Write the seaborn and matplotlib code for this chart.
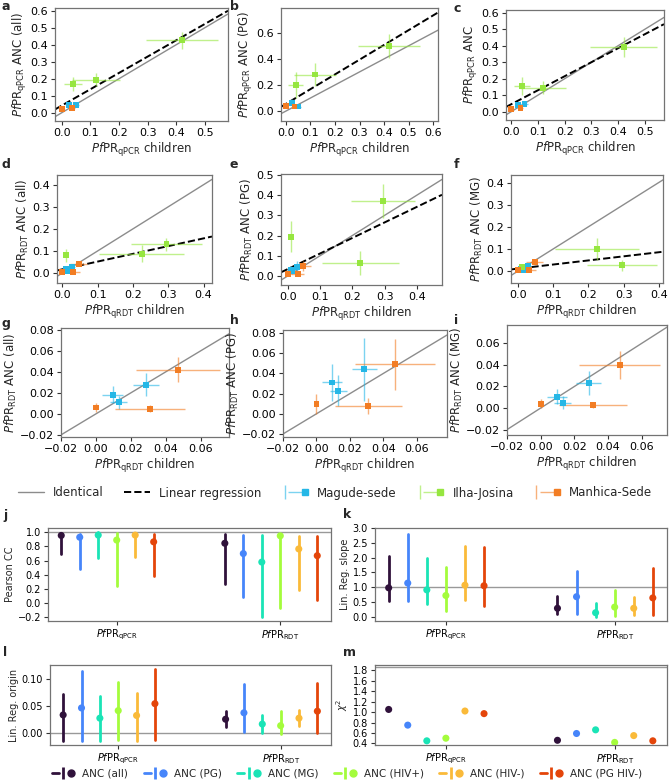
import numpy as np
import pandas as pd
import seaborn as sns
import matplotlib.pyplot as plt
from matplotlib.lines import Line2D
from matplotlib.legend_handler import HandlerTuple
from matplotlib.ticker import MultipleLocator

# sites (top panels)
sites = ["Magude-sede", "Ilha-Josina", "Manhica-Sede"]
site_colours = ["#25b7e6", "#96e640", "#f27d24"]

# children prevalence by qPCR (x of panels a-c), one list per site
qpcr_child = [[0.025, 0.05], [0.04, 0.12, 0.42], [0.0, 0.035]]
qpcr_child_err = [[0.01, 0.012], [0.03, 0.085, 0.125], [0.004, 0.01]]

# ANC prevalence by qPCR
qpcr_anc_all = [[0.045, 0.045], [0.17, 0.195, 0.425], [0.02, 0.03]]
qpcr_anc_all_err = [[0.015, 0.01], [0.04, 0.04, 0.05], [0.008, 0.01]]
qpcr_anc_pg = [[0.065, 0.035], [0.20, 0.28, 0.50], [0.04, 0.035]]
qpcr_anc_pg_err = [[0.025, 0.012], [0.10, 0.09, 0.09], [0.01, 0.01]]
qpcr_anc = [[0.04, 0.045], [0.155, 0.145, 0.39], [0.015, 0.025]]
qpcr_anc_err = [[0.015, 0.012], [0.055, 0.04, 0.06], [0.008, 0.01]]

# children prevalence by RDT (x of panels d-i)
rdt_child = [[0.0095, 0.013, 0.0285], [0.01, 0.225, 0.295], [0.0, 0.031, 0.047]]
rdt_child_err = [[0.006, 0.005, 0.0075], [0.004, 0.12, 0.10], [0.001, 0.02, 0.024]]

# ANC prevalence by RDT
rdt_anc_all = [[0.018, 0.011, 0.0275], [0.08, 0.088, 0.13], [0.006, 0.005, 0.042]]
rdt_anc_all_err = [[0.008, 0.006, 0.011], [0.03, 0.04, 0.03], [0.004, 0.003, 0.012]]
rdt_anc_pg = [[0.031, 0.023, 0.044], [0.195, 0.063, 0.37], [0.01, 0.008, 0.049]]
rdt_anc_pg_err = [[0.018, 0.015, 0.031], [0.075, 0.06, 0.085], [0.01, 0.008, 0.025]]
rdt_anc_mg = [[0.0105, 0.005, 0.023], [0.02, 0.10, 0.027], [0.004, 0.003, 0.04]]
rdt_anc_mg_err = [[0.007, 0.006, 0.011], [0.012, 0.05, 0.025], [0.004, 0.003, 0.013]]

# fitted linear regressions (slope, origin) drawn in a-f
reg_a = (0.96, 0.042)
reg_b = (1.13, 0.055)
reg_c = (0.85, 0.045)
reg_d = (0.35, 0.017)
reg_e = (0.77, 0.034)
reg_f = (0.185, 0.011)

# summary panels j-m: [qPCR list, RDT list], one value per ANC group
anc_groups = ["ANC (all)", "ANC (PG)", "ANC (MG)", "ANC (HIV+)", "ANC (HIV-)", "ANC (PG HIV-)"]
methods = [r"$\it{Pf}$PR$_{\rm qPCR}$", r"$\it{Pf}$PR$_{\rm RDT}$"]

pearson = [[0.955, 0.93, 0.96, 0.89, 0.96, 0.865], [0.845, 0.70, 0.58, 0.95, 0.765, 0.67]]
pearson_lo = [[0.69, 0.48, 0.64, 0.24, 0.65, 0.38], [0.265, 0.095, -0.19, -0.06, 0.19, 0.05]]
pearson_hi = [[0.99, 0.98, 1.0, 0.99, 0.99, 0.97], [0.975, 0.965, 0.96, 0.975, 0.95, 0.95]]

slope = [[0.98, 1.14, 0.91, 0.72, 1.07, 1.05], [0.29, 0.68, 0.14, 0.33, 0.29, 0.64]]
slope_lo = [[0.53, 0.53, 0.42, 0.2, 0.57, 0.37], [0.11, 0.1, 0.0, 0.02, 0.07, 0.05]]
slope_hi = [[2.06, 2.80, 1.99, 1.70, 2.38, 2.37], [0.70, 1.55, 0.48, 0.90, 0.68, 1.66]]

origin = [[0.033, 0.046, 0.027, 0.041, 0.032, 0.054], [0.025, 0.037, 0.016, 0.013, 0.027, 0.040]]
origin_lo = [[-0.015, -0.016, -0.015, -0.013, -0.016, -0.013], [0.010, 0.002, 0.0, -0.003, 0.012, 0.0]]
origin_hi = [[0.072, 0.115, 0.069, 0.095, 0.074, 0.119], [0.041, 0.090, 0.033, 0.040, 0.043, 0.093]]

chi2 = [[1.05, 0.75, 0.45, 0.50, 1.02, 0.97], [0.46, 0.59, 0.66, 0.42, 0.55, 0.45]]
chi2_ref = 1.87

anc_colours = [plt.get_cmap("turbo")(v) for v in np.linspace(0, 5 / 6, 6)]

sns.set_style("ticks")
plt.rcParams.update({"axes.edgecolor": "0.45", "axes.linewidth": 0.9,
                     "xtick.color": "0.2", "ytick.color": "0.2",
                     "xtick.labelcolor": "black", "ytick.labelcolor": "black"})
plt.rcParams["font.family"] = ["DejaVu Sans"]

fig = plt.figure(figsize=(6.7, 7.83), dpi=100)


def add_ax(l, t, r, b):
    return fig.add_axes([l / 670, 1 - b / 783, (r - l) / 670, (b - t) / 783])


def letter(x, y, s):
    fig.text(x / 670, 1 - y / 783, s, fontsize=9, fontweight="bold", va="center")


def scatter_panel(ax, xs, xes, ys, yes, xlim, ylim, xticks, yticks, xlab, ylab,
                  reg=None, keep=(0, 1, 2)):
    rows = []
    for k in keep:
        x, xe, y, ye, c = xs[k], xes[k], ys[k], yes[k], site_colours[k]
        ax.errorbar(x, y, xerr=xe, yerr=ye, fmt="none", ecolor=c, elinewidth=1,
                    alpha=0.6, zorder=2)
        for xi, yi in zip(x, y):
            rows.append({"site": sites[k], "x": xi, "y": yi})
    df = pd.DataFrame(rows)
    sns.scatterplot(data=df, x="x", y="y", hue="site",
                    palette={sites[k]: site_colours[k] for k in keep}, marker="s",
                    s=18, linewidth=0, legend=False, ax=ax, zorder=3)
    xl = np.array(xlim)
    ax.plot(xl, xl, color="0.55", lw=1, zorder=1)
    if reg is not None:
        ax.plot(xl, reg[0] * xl + reg[1], color="black", ls="--", lw=1.4, zorder=1)
    ax.set_xlim(xlim)
    ax.set_ylim(ylim)
    ax.set_xticks(xticks)
    ax.set_yticks(yticks)
    ax.tick_params(labelsize=8, length=3, pad=2)
    ax.set_xlabel(xlab, fontsize=8.5, labelpad=2)
    ax.set_ylabel(ylab, fontsize=8.5, labelpad=1)


xq = r"$\it{Pf}$PR$_{\rm qPCR}$ children"
xr = r"$\it{Pf}$PR$_{\rm qRDT}$ children"
t05 = [0.0, 0.1, 0.2, 0.3, 0.4, 0.5]
t06 = [0.0, 0.1, 0.2, 0.3, 0.4, 0.5, 0.6]
t04 = [0.0, 0.1, 0.2, 0.3, 0.4]
tz6 = [-0.02, 0.0, 0.02, 0.04, 0.06]
tz8 = [-0.02, 0.0, 0.02, 0.04, 0.06, 0.08]

ax = add_ax(55, 8, 228, 121)
scatter_panel(ax, qpcr_child, qpcr_child_err, qpcr_anc_all, qpcr_anc_all_err,
              (-0.023, 0.58), (-0.048, 0.615), t05, t06, xq,
              r"$\it{Pf}$PR$_{\rm qPCR}$ ANC (all)", reg_a)
ax = add_ax(281, 8, 438, 121)
scatter_panel(ax, qpcr_child, qpcr_child_err, qpcr_anc_pg, qpcr_anc_pg_err,
              (-0.02, 0.62), (-0.076, 0.79), t06, [0.0, 0.2, 0.4, 0.6], xq,
              r"$\it{Pf}$PR$_{\rm qPCR}$ ANC (PG)", reg_b)
ax = add_ax(506, 10, 664, 120)
scatter_panel(ax, qpcr_child, qpcr_child_err, qpcr_anc, qpcr_anc_err,
              (-0.019, 0.571), (-0.05, 0.616), t05, t06, xq,
              r"$\it{Pf}$PR$_{\rm qPCR}$ ANC", reg_c)

ax = add_ax(57, 175, 212, 283)
scatter_panel(ax, rdt_child, rdt_child_err, rdt_anc_all, rdt_anc_all_err,
              (-0.015, 0.424), (-0.045, 0.444), t04, t04, xr,
              r"$\it{Pf}$PR$_{\rm RDT}$ ANC (all)", reg_d)
ax = add_ax(281, 174, 442, 285)
scatter_panel(ax, rdt_child, rdt_child_err, rdt_anc_pg, rdt_anc_pg_err,
              (-0.021, 0.478), (-0.045, 0.505), t04, t05, xr,
              r"$\it{Pf}$PR$_{\rm RDT}$ ANC (PG)", reg_e)
ax = add_ax(511, 175, 663, 283)
scatter_panel(ax, rdt_child, rdt_child_err, rdt_anc_mg, rdt_anc_mg_err,
              (-0.02, 0.412), (-0.054, 0.434), t04, t04, xr,
              r"$\it{Pf}$PR$_{\rm RDT}$ ANC (MG)", reg_f)

# zoomed views, without Ilha-Josina
ax = add_ax(61, 328, 229, 437)
scatter_panel(ax, rdt_child, rdt_child_err, rdt_anc_all, rdt_anc_all_err,
              (-0.02, 0.076), (-0.022, 0.0815), tz6, tz8, xr,
              r"$\it{Pf}$PR$_{\rm RDT}$ ANC (all)", keep=(0, 2))
ax = add_ax(283, 330, 447, 437)
scatter_panel(ax, rdt_child, rdt_child_err, rdt_anc_pg, rdt_anc_pg_err,
              (-0.02, 0.078), (-0.023, 0.083), tz6, tz8, xr,
              r"$\it{Pf}$PR$_{\rm RDT}$ ANC (PG)", keep=(0, 2))
ax = add_ax(507, 325, 667, 435)
scatter_panel(ax, rdt_child, rdt_child_err, rdt_anc_mg, rdt_anc_mg_err,
              (-0.02, 0.075), (-0.025, 0.077), tz6, tz6, xr,
              r"$\it{Pf}$PR$_{\rm RDT}$ ANC (MG)", keep=(0, 2))

for x, y, s in [(2, 7, "a"), (230, 7, "b"), (454, 8, "c"),
                (2, 165, "d"), (230, 165, "e"), (454, 165, "f"),
                (2, 324, "g"), (230, 321, "h"), (454, 320, "i"),
                (3, 515, "j"), (343, 515, "k"), (3, 652, "l"), (343, 652, "m")]:
    letter(x, y, s)

# legend of the scatter panels
top_handles = [Line2D([], [], color="0.55", lw=1), Line2D([], [], color="black", ls="--", lw=1.4)]
for c in site_colours:
    top_handles.append((Line2D([], [], marker="|", ms=10, mew=1, ls="", color=c, alpha=0.6),
                        Line2D([], [], marker="_", ms=10, mew=1, ls="", color=c, alpha=0.6),
                        Line2D([], [], marker="s", ms=4, ls="", color=c)))
fig.legend(top_handles, ["Identical", "Linear regression"] + sites, loc="center",
           bbox_to_anchor=(335 / 670, 1 - 493 / 783), ncol=5, frameon=False, fontsize=8.5,
           handlelength=2.2, columnspacing=1.7, handletextpad=0.8,
           handler_map={tuple: HandlerTuple(ndivide=None)})


def summary_panel(ax, mid, lo=None, hi=None, ylab="", ref=None, ylim=None, ystep=None):
    rows = []
    for g, name in enumerate(methods):
        for i, anc in enumerate(anc_groups):
            pos = g + (i - 3) * 0.113
            rows.append({"pos": pos, "value": mid[g][i], "anc": anc})
            if lo is not None:
                ax.plot([pos, pos], [lo[g][i], hi[g][i]], color=anc_colours[i], lw=2, zorder=2)
    df = pd.DataFrame(rows)
    sns.scatterplot(data=df, x="pos", y="value", hue="anc", palette=anc_colours, s=26,
                    linewidth=0, legend=False, ax=ax, zorder=3)
    if ref is not None:
        ax.axhline(ref, color="0.6", lw=1, zorder=1)
    if ylim is not None:
        ax.set_ylim(ylim)
    if ystep is not None:
        ax.yaxis.set_major_locator(MultipleLocator(ystep))
    ax.set_xticks([0, 1])
    ax.set_xticklabels(methods)
    ax.set_xlim(-0.42, 1.31)
    ax.set_xlabel("")
    ax.set_ylabel(ylab, fontsize=7, labelpad=2)
    ax.tick_params(labelsize=7, length=3, pad=2)


ax = add_ax(48, 528, 331, 621)
summary_panel(ax, pearson, pearson_lo, pearson_hi, "Pearson CC", 1.0, (-0.25, 1.06), 0.2)
ax = add_ax(375, 528, 667, 621)
summary_panel(ax, slope, slope_lo, slope_hi, "Lin. Reg. slope", 1.0, (-0.14, 3.0), 0.5)
ax = add_ax(50, 665, 331, 745)
summary_panel(ax, origin, origin_lo, origin_hi, "Lin. Reg. origin", 0.0, (-0.023, 0.126), 0.05)
ax = add_ax(375, 665, 667, 745)
summary_panel(ax, chi2, ylab=r"$\chi^2$", ref=chi2_ref, ylim=(0.37, 1.9), ystep=0.2)

bottom_handles = []
for c in anc_colours:
    bottom_handles.append((Line2D([], [], color=c, lw=2),
                           Line2D([], [], marker="|", ms=8, mew=2, ls="", color=c),
                           Line2D([], [], marker="o", ms=5, ls="", color=c)))
fig.legend(bottom_handles, anc_groups, loc="center", bbox_to_anchor=(347 / 670, 1 - 774 / 783),
           ncol=6, frameon=False, fontsize=7.5, handlelength=2.2, columnspacing=1.5,
           handletextpad=0.7, borderpad=0.1, handler_map={tuple: HandlerTuple(ndivide=None)})

fig.savefig("out.png", dpi=100)
